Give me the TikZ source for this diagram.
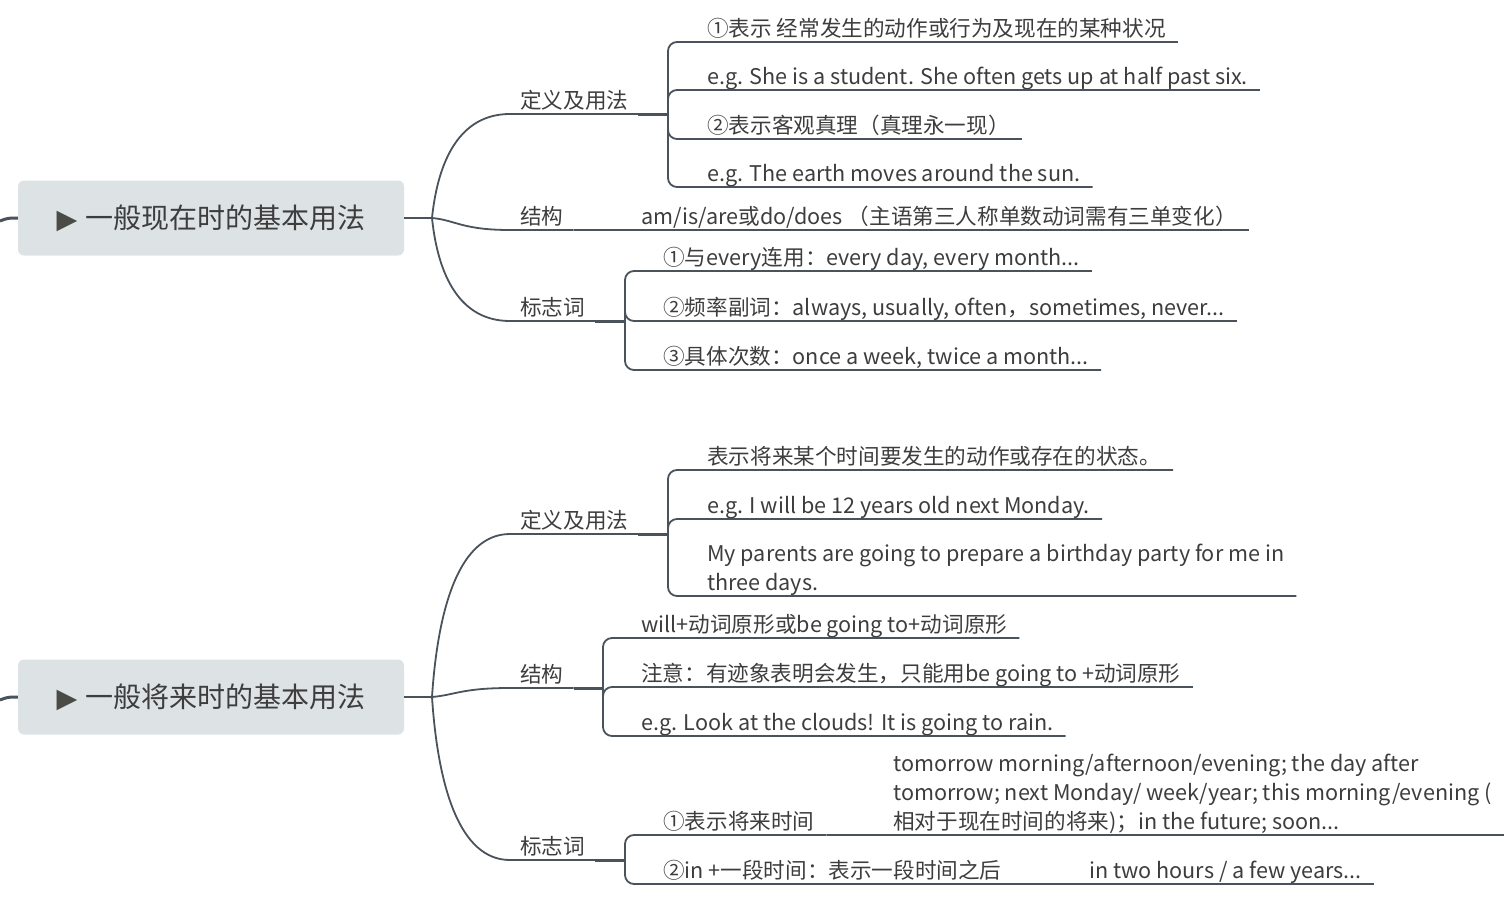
\documentclass[tikz,border=0pt]{standalone}
\usepackage{fontspec}
\setmainfont{Noto Sans CJK SC}
\newfontfamily\symfont{DejaVu Sans}
\usetikzlibrary{positioning}
\definecolor{lineC}{HTML}{4A525B}
\definecolor{textC}{HTML}{3D3D3D}
\definecolor{rootFill}{HTML}{DDE3E5}
\definecolor{triC}{HTML}{4B4B45}
\tikzstyle{rootNode} = [rectangle, minimum width=386pt, minimum height=75pt, rounded corners=6pt, fill=rootFill, text=textC, font=\fontsize{28}{34}\selectfont, inner sep=0pt]
\tikzstyle{branchNode} = [anchor=south west, inner xsep=10pt, inner ysep=0pt, text depth=5.5pt, text=textC, font=\fontsize{21.6}{29}\selectfont]
\tikzstyle{leafNode} = [branchNode, inner xsep=12pt, align=left]
\tikzstyle{line} = [line width=1.8pt, draw=lineC]
\tikzstyle{lineT} = [line width=3pt, draw=lineC]
\tikzstyle{bracket} = [line, rounded corners=9pt]
\newcommand{\tri}{{\symfont\fontsize{27}{30}\selectfont\textcolor{triC}{▶}}\hspace{8pt}}

\begin{document}
\begin{tikzpicture}[x=1pt, y=-1pt]
        \useasboundingbox (0,0) rectangle (1510,907);

        % present tense
        \node (r1) [rootNode] at (211,218) {\tri 一般现在时的基本用法};
        \coordinate (r1in) at (0,221);
        \coordinate (r1j) at (432,218);
        \node (def1) [branchNode] at (510,114) {定义及用法};
        \coordinate (def1k) at (668,114);
        \node (def1a) [leafNode] at (695,42) {①表示 经常发生的动作或行为及现在的某种状况};
        \node (def1b) [leafNode] at (695,90) {e.g. She is a student. She often gets up at half past six.};
        \node (def1c) [leafNode] at (695,139) {②表示客观真理（真理永一现）};
        \node (def1d) [leafNode] at (695,187) {e.g. The earth moves around the sun.};
        \node (str1) [branchNode] at (510,230) {结构};
        \node (str1a) [leafNode] at (629,230) {am/is/are或do/does （主语第三人称单数动词需有三单变化）};
        \node (sig1) [branchNode] at (510,321) {标志词};
        \coordinate (sig1k) at (625,321);
        \node (sig1a) [leafNode] at (651,271) {①与every连用：every day, every month...};
        \node (sig1b) [leafNode] at (651,321) {②频率副词：always, usually, often，sometimes, never...};
        \node (sig1c) [leafNode] at (651,370) {③具体次数：once a week, twice a month...};

        \draw [lineT] (r1in) .. controls (8,218) .. (r1.west);
        \draw [line] (r1.east) -- (r1j);
        \draw [line] (r1j) .. controls (438,160) and (460,114) .. (def1.south west) -- (def1.south east);
        \draw [line] (r1j) .. controls (455,220) and (462,230) .. (str1.south west) -- (str1.south east);
        \draw [line] (r1j) .. controls (438,276) and (460,321) .. (sig1.south west) -- (sig1.south east);
        \draw [lineT] (def1.south east) -- (def1k);
        \draw [lineT] (sig1.south east) -- (sig1k);
        \draw [line] (str1.south east) -- (str1a.south west) -- (str1a.south east);
        \foreach \n in {def1a,def1b,def1c,def1d}
            \draw [bracket] (def1k) |- (\n.south west) -- (\n.south east);
        \foreach \n in {sig1a,sig1b,sig1c}
            \draw [bracket] (sig1k) |- (\n.south west) -- (\n.south east);

        % future tense
        \node (r2) [rootNode] at (211,697) {\tri 一般将来时的基本用法};
        \coordinate (r2in) at (0,700);
        \coordinate (r2j) at (432,697);
        \node (def2) [branchNode] at (510,534) {定义及用法};
        \coordinate (def2k) at (668,534);
        \node (def2a) [leafNode] at (695,470) {表示将来某个时间要发生的动作或存在的状态。};
        \node (def2b) [leafNode] at (695,519) {e.g. I will be 12 years old next Monday.};
        \node (def2c) [leafNode] at (695,596) {My parents are going to prepare a birthday party for me in\\three days.};
        \node (str2) [branchNode] at (510,688) {结构};
        \coordinate (str2k) at (603,688);
        \node (str2a) [leafNode] at (629,638) {will+动词原形或be going to+动词原形};
        \node (str2b) [leafNode] at (629,687) {注意：有迹象表明会发生，只能用be going to +动词原形};
        \node (str2c) [leafNode] at (629,736) {e.g. Look at the clouds! It is going to rain.};
        \node (sig2) [branchNode] at (510,860) {标志词};
        \coordinate (sig2k) at (625,860);
        \node (sig2a) [leafNode] at (651,835) {①表示将来时间};
        \node (sig2aa) [leafNode] at (881,835) {tomorrow morning/afternoon/evening; the day after\\tomorrow; next Monday/ week/year; this morning/evening (\\相对于现在时间的将来)；in the future; soon...};
        \node (sig2b) [leafNode] at (651,884) {②in +一段时间：表示一段时间之后};
        \node (sig2bb) [leafNode] at (1077,884) {in two hours / a few years...};

        \draw [lineT] (r2in) .. controls (8,697) .. (r2.west);
        \draw [line] (r2.east) -- (r2j);
        \draw [line] (r2j) .. controls (438,606) and (460,534) .. (def2.south west) -- (def2.south east);
        \draw [line] (r2j) .. controls (455,695) and (462,688) .. (str2.south west) -- (str2.south east);
        \draw [line] (r2j) .. controls (438,788) and (460,860) .. (sig2.south west) -- (sig2.south east);
        \draw [lineT] (def2.south east) -- (def2k);
        \draw [lineT] (str2.south east) -- (str2k);
        \draw [lineT] (sig2.south east) -- (sig2k);
        \foreach \n in {def2a,def2b,def2c}
            \draw [bracket] (def2k) |- (\n.south west) -- (\n.south east);
        \foreach \n in {str2a,str2b,str2c}
            \draw [bracket] (str2k) |- (\n.south west) -- (\n.south east);
        \foreach \n in {sig2a,sig2b}
            \draw [bracket] (sig2k) |- (\n.south west) -- (\n.south east);
        \draw [line] (sig2a.south east) -- (sig2aa.south west) -- (sig2aa.south east);
        \draw [line] (sig2b.south east) -- (sig2bb.south west) -- (sig2bb.south east);
\end{tikzpicture}
\end{document}
